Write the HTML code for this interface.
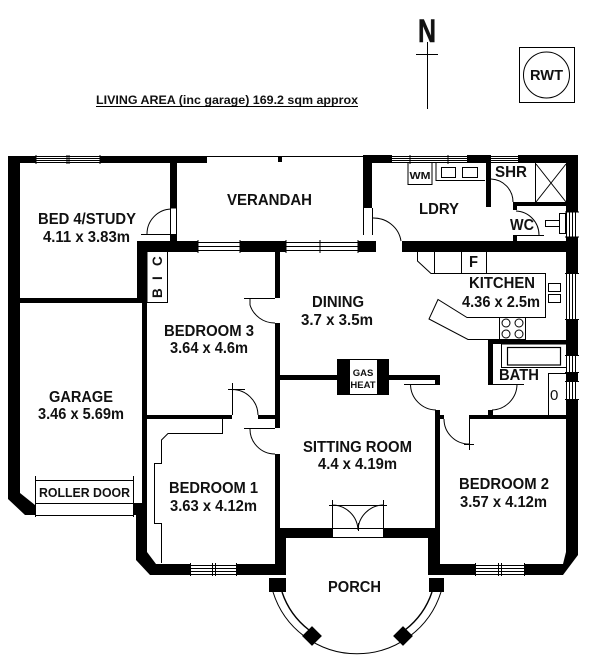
<!DOCTYPE html>
<html><head><meta charset="utf-8"><style>
html,body{margin:0;padding:0;background:#fff}
svg{display:block}
text{font-family:"Liberation Sans",Arial,sans-serif;font-weight:bold;fill:#111}
.d{font-size:15.5px}
</style></head><body>
<svg width="600" height="671" viewBox="0 0 600 671" xmlns="http://www.w3.org/2000/svg">
<rect width="600" height="671" fill="#fff"/>
<!-- walls -->
<g fill="#000">
<path d="M8 156H207V163H20V493L35 505V515H25L8 499Z"/>
<rect x="170" y="156" width="7" height="52"/>
<rect x="170" y="234" width="7" height="8"/>
<path d="M137 241H376V252H147V298H147V503H142V303H20V298H137Z"/>
<rect x="275" y="252" width="5" height="46"/>
<rect x="275" y="323" width="5" height="105"/>
<path d="M147 415H232V419H147Z"/>
<rect x="258" y="415" width="17" height="4"/>
<path d="M275 454H280V528H332V538H286V575H150L136 560V515H133V503H147V552L156 564H275Z"/>
<path d="M383 528H435V410H440V564H563L566 552V419H469V415H566V252H402V241H566V163H372V208H363V155H578V555L563 575H428V538H383Z"/>
<rect x="280" y="375" width="57" height="5"/>
<rect x="389" y="375" width="51" height="5"/>
<rect x="435" y="375" width="5" height="10"/>
<rect x="337" y="359" width="52" height="36"/>
<rect x="275" y="538" width="11" height="37"/>
<rect x="486" y="163" width="5" height="44"/>
<rect x="513" y="202" width="53" height="4"/>
<rect x="513" y="206" width="4" height="4"/>
<rect x="513" y="235" width="4" height="6"/>
<path d="M488 340H566V344H493V385H488Z"/>
<rect x="488" y="410" width="5" height="6"/>
<rect x="440" y="415" width="4" height="4"/>
<rect x="278" y="157" width="4" height="5"/>
<rect x="269" y="578" width="17" height="14"/>
<rect x="429" y="578" width="15" height="14"/>
<rect x="305" y="629" width="14" height="14" transform="rotate(45 312 636)"/>
<rect x="396" y="629" width="14" height="14" transform="rotate(45 403 636)"/>
</g>
<rect x="350" y="360" width="27" height="34" fill="#fff"/>
<!-- verandah top line -->
<path d="M207 156.5H363" stroke="#000" stroke-width="1" fill="none"/>
<!-- openings: white-out -->
<g fill="#fff">
<rect x="36" y="156" width="64" height="8"/>
<rect x="198" y="241" width="42" height="11"/>
<rect x="286" y="241" width="72" height="11"/>
<rect x="392" y="155" width="75" height="8"/>
<rect x="491" y="155" width="27" height="8"/>
<rect x="566" y="212" width="12" height="25"/>
<rect x="566" y="273" width="12" height="47"/>
<rect x="566" y="355" width="12" height="18"/>
<rect x="566" y="381" width="12" height="19"/>
<rect x="190" y="564" width="47" height="11"/>
<rect x="475" y="564" width="50" height="11"/>
<rect x="332" y="528" width="51" height="10"/>
</g>
<g stroke="#000" stroke-width="1" fill="none">
<!-- windows -->
<path d="M36 156.5H100M36 158.5H100M36 160.5H100M36 162.5H100M36 155V164M100 155V164M67 155V164M69 155V164"/>
<path d="M198 242.5H240M198 246.5H240M198 250.5H240M198 240V253M240 240V253"/>
<path d="M286 242.5H358M286 246.5H358M286 250.5H358M286 240V253M320 240V253M358 240V253"/>
<path d="M392 156.5H467M392 158.5H467M392 160.5H467M392 162.5H467M410 155V164M448 155V164"/>
<path d="M491 156.5H518M491 158.5H518M491 160.5H518M491 162.5H518"/>
<path d="M566.5 212V237M569.5 212V237M572.5 212V237M575.5 212V237M565 212H579M565 237H579"/>
<path d="M566.5 273V320M569.5 273V320M572.5 273V320M575.5 273V320M565 273.5H579M565 319.5H579"/>
<path d="M566.5 355V373M569.5 355V373M572.5 355V373M575.5 355V373M565 355.5H579M565 372.5H579"/>
<path d="M566.5 381V400M569.5 381V400M572.5 381V400M575.5 381V400M565 381.5H579M565 399.5H579"/>
<path d="M190 565.5H237M190 568.5H237M190 571.5H237M190 574.5H237M190.5 563V576M236.5 563V576M212.5 563V576M215.5 563V576"/>
<path d="M475 565.5H525M475 568.5H525M475 571.5H525M475 574.5H525M475.5 563V576M524.5 563V576M498.5 563V576M501.5 563V576"/>
<!-- doors -->
<path d="M170.5 208V234M176.5 208V234M170.5 208H177M171 234.5H141"/>
<path d="M171 209A25 25 0 0 0 147 234"/>
<path d="M275 298.5H244M250 298V305A26 26 0 0 0 275 323"/>
<path d="M232.5 383V415M228 389.5H245M232 389.5A26 26 0 0 1 258 415"/>
<path d="M275 428.5H244M250 428A25 25 0 0 0 275 454"/>
<path d="M372.5 208V235M363.5 208V235M372 218A28 27 0 0 1 401 241"/>
<path d="M491 179A23 23 0 0 1 513 202"/>
<path d="M516 211A24 24 0 0 1 539 235M515 235.5H544"/>
<path d="M404 384.5H435M410.5 384A26 26 0 0 0 436 410"/>
<path d="M517 384A26 26 0 0 1 492 410M490 384.5H524"/>
<path d="M469.5 419V450M464 444.5H474M444 419A25 25 0 0 0 469 444"/>
<path d="M332.5 500V538M383.5 500V538M329 505.5H387M332 505A26 26 0 0 1 358 530M383 505A26 26 0 0 0 358 530M358.5 523V531M332 528.5H383M332 537.5H383"/>
<!-- roller door -->
<path d="M35 480.5H134M35.5 476V517M36 503.5H133M133.5 476V517M36 515.5H133"/>
<!-- BIC box -->
<path d="M147 252V302.5H167.5V252"/>
<!-- robe -->
<path d="M222.5 419V433.5H168L161.5 440V463.5H154.5V523.5H161.5V563"/>
<!-- laundry fixtures -->
<path d="M408 163V184.5H432V163"/>
<path d="M436 163V180.5H485"/>
<rect x="441.5" y="167.5" width="14" height="10"/>
<rect x="462.5" y="167.5" width="15" height="10"/>
<!-- shower -->
<path d="M535.5 163V202M536 164L566 202M566 164L536 202"/>
<!-- toilet -->
<rect x="545.5" y="220.5" width="14" height="6"/>
<rect x="559.5" y="213.5" width="6" height="20"/>
<!-- kitchen -->
<path d="M417.5 252V261L431 273.5H545.5V317.5H467L438 299.5L429 319L468 339.5H525.5V317M499.5 317V339"/>
<path d="M434.5 252V273M461.5 252V273M486.5 252V273"/>
<circle cx="506" cy="323" r="4"/><circle cx="519" cy="323" r="4"/>
<circle cx="506" cy="334" r="4"/><circle cx="519" cy="334" r="4"/>
<rect x="548.5" y="283.5" width="12" height="8"/>
<rect x="548.5" y="294.5" width="12" height="8"/>
<!-- bath -->
<path d="M566 344H501.5V367.5H566" />
<rect x="507.5" y="347.5" width="53" height="17.5" stroke-width="1.2"/>
<path d="M566 373.5H548.5V415"/>
<!-- porch -->
<path d="M273 592A88 88 0 0 0 441 592" stroke-width="1"/>
<path d="M282 592A80 80 0 0 0 309 630" stroke-width="1.4"/>
<path d="M432 592A80 80 0 0 1 405 630" stroke-width="1.4"/>
<!-- north -->
<path d="M427.5 42V109" stroke-width="1"/>
<path d="M416 54.5H438" stroke-width="1"/>
<!-- RWT -->
<rect x="519.5" y="47.5" width="55" height="55"/>
<circle cx="546.5" cy="75" r="23"/>
</g>
<!-- labels -->
<text x="96" y="104" font-size="12" textLength="262" lengthAdjust="spacingAndGlyphs">LIVING AREA (inc garage) 169.2 sqm approx</text>
<path d="M96 106.5H358" stroke="#000" stroke-width="1"/>
<text x="418" y="42" font-size="32" textLength="18" lengthAdjust="spacingAndGlyphs" stroke="#111" stroke-width="0.6">N</text>
<text x="530" y="80" font-size="14.5" textLength="33" lengthAdjust="spacingAndGlyphs">RWT</text>
<text class="d" x="38" y="224" textLength="98" lengthAdjust="spacingAndGlyphs">BED 4/STUDY</text>
<text class="d" x="43" y="242" textLength="87" lengthAdjust="spacingAndGlyphs">4.11 x 3.83m</text>
<text class="d" x="227" y="205" textLength="85" lengthAdjust="spacingAndGlyphs">VERANDAH</text>
<text class="d" x="419" y="214" textLength="40" lengthAdjust="spacingAndGlyphs">LDRY</text>
<text class="d" x="495" y="177" textLength="32" lengthAdjust="spacingAndGlyphs">SHR</text>
<text class="d" x="510" y="230" textLength="24" lengthAdjust="spacingAndGlyphs">WC</text>
<text x="409.5" y="179" font-size="10.5" textLength="21" lengthAdjust="spacingAndGlyphs">WM</text>
<text class="d" x="469" y="288" textLength="66" lengthAdjust="spacingAndGlyphs">KITCHEN</text>
<text class="d" x="462" y="307" textLength="78" lengthAdjust="spacingAndGlyphs">4.36 x 2.5m</text>
<text class="d" x="469" y="267" textLength="9" lengthAdjust="spacingAndGlyphs">F</text>
<text class="d" x="312" y="307" textLength="52" lengthAdjust="spacingAndGlyphs">DINING</text>
<text class="d" x="301" y="325" textLength="72" lengthAdjust="spacingAndGlyphs">3.7 x 3.5m</text>
<text class="d" x="164" y="336" textLength="90" lengthAdjust="spacingAndGlyphs">BEDROOM 3</text>
<text class="d" x="170" y="353" textLength="78" lengthAdjust="spacingAndGlyphs">3.64 x 4.6m</text>
<text class="d" x="49" y="402" textLength="64" lengthAdjust="spacingAndGlyphs">GARAGE</text>
<text class="d" x="38" y="419" textLength="86" lengthAdjust="spacingAndGlyphs">3.46 x 5.69m</text>
<text x="39" y="497" font-size="12.5" textLength="91" lengthAdjust="spacingAndGlyphs">ROLLER DOOR</text>
<text class="d" x="169" y="493" textLength="89" lengthAdjust="spacingAndGlyphs">BEDROOM 1</text>
<text class="d" x="170" y="511" textLength="87" lengthAdjust="spacingAndGlyphs">3.63 x 4.12m</text>
<text class="d" x="303" y="452" textLength="109" lengthAdjust="spacingAndGlyphs">SITTING ROOM</text>
<text class="d" x="318" y="469" textLength="79" lengthAdjust="spacingAndGlyphs">4.4 x 4.19m</text>
<text class="d" x="459" y="489" textLength="90" lengthAdjust="spacingAndGlyphs">BEDROOM 2</text>
<text class="d" x="460" y="507" textLength="87" lengthAdjust="spacingAndGlyphs">3.57 x 4.12m</text>
<text class="d" x="328" y="592" textLength="53" lengthAdjust="spacingAndGlyphs">PORCH</text>
<text class="d" x="499" y="380" textLength="40" lengthAdjust="spacingAndGlyphs">BATH</text>
<text x="550" y="400" font-size="15" style="font-weight:normal">0</text>
<text x="363" y="376" font-size="9.5" text-anchor="middle">GAS</text>
<text x="363" y="388" font-size="9.5" text-anchor="middle">HEAT</text>
<text transform="translate(162 298) rotate(-90)" font-size="13.5">B</text>
<text transform="translate(162 280) rotate(-90)" font-size="13.5">I</text>
<text transform="translate(162 266) rotate(-90)" font-size="13.5">C</text>
</svg>
</body></html>
